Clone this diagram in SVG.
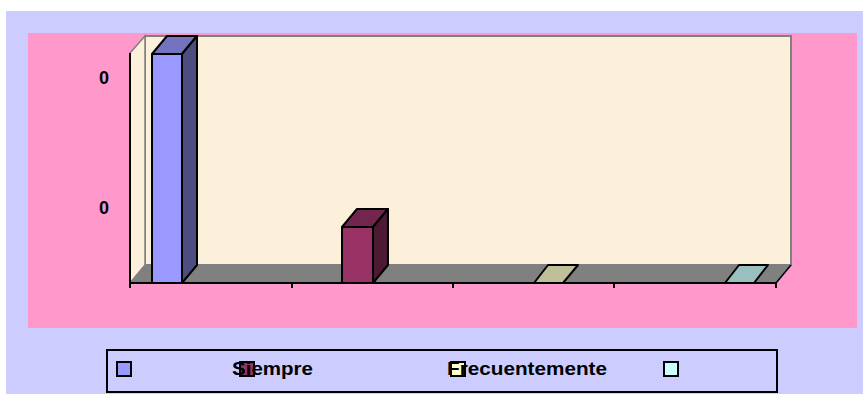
<svg xmlns="http://www.w3.org/2000/svg" width="864" height="394" viewBox="0 0 864 394">
<style>
.bar{stroke:#000;stroke-width:2;stroke-linejoin:round}
.lbl{font-family:"Liberation Sans",Arial,sans-serif;font-weight:bold;font-size:18px;fill:#000}
.sw{stroke:#000;stroke-width:2}
</style>
<rect x="0" y="0" width="864" height="394" fill="#ffffff"/>
<rect x="6" y="11" width="857" height="383" fill="#ccccff"/>
<rect x="28" y="33" width="829" height="295" fill="#ff99cc"/>
<g id="plot">
<rect x="145" y="36" width="646" height="229" fill="#fcf0da" stroke="#808080" stroke-width="2"/>
<polygon points="130,53 145,36 145,265 130,283" fill="#fcf0da" stroke="#808080" stroke-width="1.5"/>
<polygon points="130,283 145,265 791,265 776,283" fill="#808080" stroke="#808080" stroke-width="1"/>
<line x1="130" y1="53" x2="130" y2="284" stroke="#000" stroke-width="2"/>
<line x1="129" y1="283" x2="777" y2="283" stroke="#000" stroke-width="2"/>
<line x1="776" y1="283" x2="791" y2="265" stroke="#000" stroke-width="1.5"/>
<g stroke="#000" stroke-width="2">
<line x1="130" y1="283" x2="130" y2="288"/>
<line x1="292" y1="283" x2="292" y2="288"/>
<line x1="453" y1="283" x2="453" y2="288"/>
<line x1="614" y1="283" x2="614" y2="288"/>
<line x1="776" y1="283" x2="776" y2="288"/>
</g>
<text class="lbl" x="104" y="84" text-anchor="middle">0</text>
<text class="lbl" x="104" y="214" text-anchor="middle">0</text>
</g>
<g id="bar-1">
<rect class="bar" x="152" y="54" width="30" height="229" fill="#9999ff"/>
<polygon class="bar" points="152,54 167,36 197,36 182,54" fill="#7373bf"/>
<polygon class="bar" points="182,54 197,36 197,265 182,283" fill="#4d4d80"/>
</g>
<g id="bar-2">
<rect class="bar" x="342" y="227" width="31" height="56" fill="#993366"/>
<polygon class="bar" points="342,227 357,209 388,209 373,227" fill="#73264d"/>
<polygon class="bar" points="373,227 388,209 388,265 373,283" fill="#4d1a33"/>
</g>
<g id="bar-3">
<polygon class="bar" points="534,283 548,265 578,265 563,283" fill="#bfbf99"/>
</g>
<g id="bar-4">
<polygon class="bar" points="725,283 739,265 768,265 754,283" fill="#99bfbf"/>
</g>
<g id="legend">
<rect x="107" y="350" width="670" height="42" fill="#ccccff" stroke="#000" stroke-width="2"/>
<rect class="sw" x="117" y="362" width="14" height="14" fill="#9999ff"/>
<rect class="sw" x="240" y="362" width="14" height="14" fill="#993366"/>
<text class="lbl" x="232" y="375" textLength="81" lengthAdjust="spacingAndGlyphs">Siempre</text>
<rect class="sw" x="451" y="362" width="14" height="14" fill="#ffffcc"/>
<text class="lbl" x="447" y="375" textLength="160" lengthAdjust="spacingAndGlyphs">Frecuentemente</text>
<rect class="sw" x="664" y="362" width="14" height="14" fill="#ccffff"/>
</g>
</svg>
